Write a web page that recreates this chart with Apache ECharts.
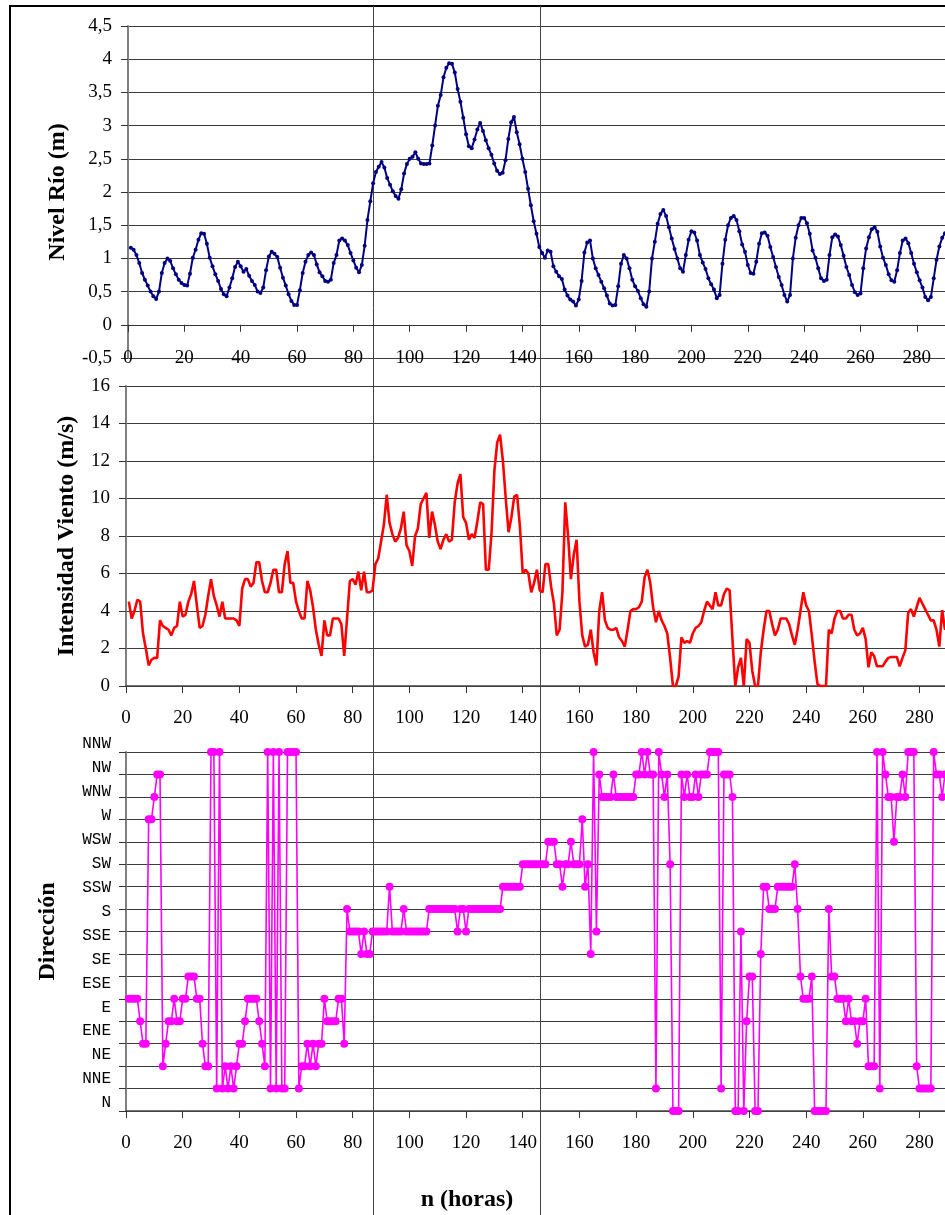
<!DOCTYPE html>
<html>
<head>
<meta charset="utf-8">
<script src="https://cdn.jsdelivr.net/npm/echarts@6/dist/echarts.min.js"></script>
<style>
  html, body { margin: 0; padding: 0; background: #fff; }
  #chart { width: 945px; height: 1215px; }
</style>
</head>
<body>
<div id="chart"></div>
<script>
// Hourly records, first sample at hour 1
const horaInicial = 1;

// River level (m)
const nivelRio = [
  1.16,1.13,1.05,0.93,0.78,0.68,0.59,0.50,0.43,0.39,
  0.50,0.78,0.93,1.00,0.96,0.85,0.76,0.68,0.63,0.60,
  0.59,0.77,1.01,1.13,1.28,1.38,1.37,1.22,1.01,0.88,
  0.76,0.66,0.54,0.46,0.43,0.56,0.70,0.87,0.95,0.88,
  0.80,0.84,0.74,0.66,0.60,0.50,0.48,0.56,0.82,1.03,
  1.10,1.07,1.02,0.86,0.71,0.59,0.46,0.36,0.30,0.30,
  0.52,0.78,0.95,1.05,1.09,1.05,0.91,0.79,0.73,0.66,
  0.65,0.68,0.93,1.05,1.27,1.30,1.27,1.20,1.08,0.97,
  0.86,0.79,0.90,1.19,1.58,1.86,2.13,2.30,2.38,2.45,
  2.37,2.21,2.11,2.01,1.94,1.90,2.04,2.28,2.42,2.50,
  2.53,2.60,2.50,2.43,2.42,2.42,2.43,2.70,3.00,3.30,
  3.46,3.73,3.87,3.94,3.93,3.80,3.55,3.36,3.12,2.87,
  2.69,2.66,2.79,2.94,3.04,2.92,2.78,2.66,2.56,2.43,
  2.32,2.27,2.29,2.48,2.80,3.05,3.13,2.90,2.72,2.50,
  2.30,2.05,1.80,1.56,1.37,1.17,1.08,1.01,1.12,1.10,
  0.88,0.80,0.73,0.69,0.53,0.44,0.38,0.35,0.29,0.38,
  0.66,1.09,1.24,1.27,1.00,0.85,0.75,0.65,0.55,0.44,
  0.32,0.29,0.30,0.58,0.92,1.05,1.00,0.85,0.68,0.58,
  0.51,0.40,0.31,0.27,0.50,1.00,1.25,1.52,1.67,1.73,
  1.64,1.47,1.30,1.14,1.00,0.85,0.80,1.05,1.28,1.41,
  1.39,1.27,1.05,0.94,0.84,0.70,0.61,0.53,0.40,0.45,
  0.92,1.28,1.50,1.61,1.64,1.58,1.41,1.21,1.10,0.90,
  0.78,0.77,0.95,1.22,1.38,1.39,1.34,1.17,1.02,0.87,
  0.72,0.60,0.45,0.35,0.45,1.00,1.31,1.50,1.61,1.61,
  1.53,1.37,1.12,1.01,0.85,0.70,0.66,0.68,1.05,1.32,
  1.36,1.33,1.20,1.04,0.87,0.75,0.60,0.49,0.45,0.47,
  0.85,1.15,1.32,1.44,1.47,1.40,1.18,1.01,0.90,0.76,
  0.67,0.65,0.82,1.08,1.27,1.30,1.23,1.08,0.92,0.79,
  0.67,0.56,0.42,0.37,0.42,0.70,0.98,1.18,1.31,1.38
];

// Wind speed (m/s)
const intensidadViento = [
  4.5,3.6,4.0,4.6,4.5,2.8,2.0,1.1,1.4,1.5,
  1.5,3.5,3.2,3.1,3.0,2.7,3.1,3.2,4.5,3.7,
  3.8,4.5,4.9,5.6,4.3,3.1,3.2,3.8,4.8,5.7,
  4.8,4.3,3.7,4.5,3.6,3.6,3.6,3.6,3.5,3.2,
  5.2,5.7,5.7,5.3,5.5,6.6,6.6,5.6,5.0,5.0,
  5.5,6.2,6.2,5.0,5.0,6.5,7.2,5.5,5.5,4.5,
  4.0,3.6,3.6,5.6,5.1,4.2,3.0,2.2,1.6,3.5,
  2.7,2.7,3.6,3.6,3.6,3.3,1.6,3.6,5.6,5.7,
  5.4,6.1,5.1,6.1,5.0,5.0,5.1,6.5,6.8,7.7,
  8.6,10.2,8.7,8.1,7.7,7.9,8.4,9.3,7.5,7.2,
  6.4,8.0,8.4,9.7,10.0,10.3,7.9,9.3,8.6,7.7,
  7.3,7.8,8.1,7.7,7.8,9.8,10.8,11.3,9.0,8.7,
  7.8,8.1,7.9,8.8,9.8,9.7,6.2,6.2,8.2,11.5,
  13.0,13.4,12.0,10.0,8.2,9.0,10.1,10.2,8.5,6.0,
  6.2,6.0,5.0,5.5,6.2,5.1,5.0,6.5,6.5,5.3,
  4.4,2.7,3.0,5.0,9.8,8.0,5.7,7.0,7.8,4.5,
  2.7,2.1,2.2,3.0,1.8,1.1,4.0,5.0,3.5,3.1,
  3.0,3.0,3.1,2.6,2.4,2.1,3.0,4.0,4.1,4.1,
  4.2,4.5,5.8,6.2,5.5,4.2,3.4,4.0,3.5,3.2,
  2.8,1.5,0.0,0.0,0.5,2.6,2.3,2.4,2.3,2.8,
  3.1,3.2,3.4,4.0,4.5,4.3,4.1,5.0,4.3,4.3,
  4.9,5.2,5.1,2.5,0.0,1.0,1.5,0.0,2.5,2.3,
  0.8,0.0,0.0,1.8,3.0,4.0,4.0,3.3,2.7,3.0,
  3.6,3.6,3.6,3.3,2.7,2.2,3.0,4.0,5.0,4.3,
  4.0,2.7,1.3,0.1,0.0,0.0,0.0,3.0,2.8,3.6,
  4.0,4.0,3.6,3.6,3.8,3.8,3.0,2.7,2.8,3.1,
  2.5,1.0,1.8,1.6,1.05,1.05,1.05,1.3,1.5,1.55,
  1.55,1.55,1.05,1.5,1.9,3.9,4.1,3.7,4.2,4.7,
  4.4,4.1,3.8,3.5,3.5,3.0,2.1,4.05,3.0,3.5
];

// Wind direction, as a step on the 0..16 scale
const direccion = [
  5,5,5,5,4,3,3,13,13,14,
  15,15,2,3,4,4,5,4,4,5,
  5,6,6,6,5,5,3,2,2,16,
  16,1,16,1,2,1,2,1,2,3,
  3,4,5,5,5,5,4,3,2,16,
  1,16,1,16,1,1,16,16,16,16,
  1,2,2,3,2,3,2,3,3,5,
  4,4,4,4,5,5,3,9,8,8,
  8,8,7,8,7,7,8,8,8,8,
  8,8,10,8,8,8,8,9,8,8,
  8,8,8,8,8,8,9,9,9,9,
  9,9,9,9,9,9,8,9,9,8,
  9,9,9,9,9,9,9,9,9,9,
  9,9,10,10,10,10,10,10,10,11,
  11,11,11,11,11,11,11,11,12,12,
  12,11,11,10,11,11,12,11,11,11,
  13,10,11,7,16,8,15,14,14,14,
  14,15,14,14,14,14,14,14,14,15,
  15,16,15,16,15,15,1,16,15,14,
  15,11,0,0,0,15,14,15,14,14,
  15,14,15,15,15,16,16,16,16,1,
  15,15,15,14,0,0,8,0,4,6,
  6,0,0,7,10,10,9,9,9,10,
  10,10,10,10,10,11,9,6,5,5,
  5,6,0,0,0,0,0,9,6,6,
  5,5,5,4,5,4,4,3,4,4,
  5,2,2,2,16,1,16,15,14,14,
  12,14,14,15,14,16,16,16,2,1,
  1,1,1,1,16,15,15,14,15,15
];

// Compass point labels for the direction panel
const rumbos = ['N','NNE','NE','ENE','E','ESE','SE','SSE','S','SSW','SW','WSW','W','WNW','NW','NNW'];

// Hours marked with vertical reference lines across all panels
const horasEvento = [87, 146];

const pares = arr => arr.map((v, i) => [horaInicial + i, v]);

const serif = '"Liberation Serif", "Times New Roman", serif';
const mono = '"Liberation Mono", "Courier New", monospace';
const gridLine = { show: true, lineStyle: { color: '#3c3c3c', width: 1 } };
const tickLbl = { color: '#000', fontFamily: serif, fontSize: 19 };
const titleStyle = { color: '#000', fontFamily: serif, fontSize: 24, fontWeight: 'bold' };
const xLabelFmt = v => (v % 20 === 0 ? String(v) : '');

const chart = echarts.init(document.getElementById('chart'), null, { renderer: 'canvas' });

chart.setOption({
  animation: false,
  backgroundColor: '#fff',
  grid: [
    { left: 128, top: 26, right: 0, height: 332, outerBoundsMode: 'none', containLabel: false },
    { left: 126, top: 386, right: 0, height: 300, outerBoundsMode: 'none', containLabel: false },
    { left: 126, top: 752, right: 0, height: 359, outerBoundsMode: 'none', containLabel: false }
  ],
  xAxis: [
    // river level: axis line through zero
    { type: 'value', gridIndex: 0, min: 0, max: 290, interval: 20, position: 'bottom',
      axisLine: { show: true, onZero: true, lineStyle: { color: '#333', width: 1 } },
      axisTick: { show: true, length: 7, lineStyle: { color: '#333' } },
      axisLabel: { show: false }, splitLine: { show: false } },
    // river level: hour labels along the lower edge
    { type: 'value', gridIndex: 0, min: 0, max: 290, interval: 20, position: 'bottom',
      axisLine: { show: false, onZero: false }, axisTick: { show: false },
      axisLabel: Object.assign({ margin: 0, verticalAlign: 'middle', formatter: xLabelFmt }, tickLbl),
      splitLine: { show: false } },
    // wind speed
    { type: 'value', gridIndex: 1, min: 0, max: 289, interval: 20, position: 'bottom',
      axisLine: { show: true, onZero: false, lineStyle: { color: '#444', width: 1.5 } },
      axisTick: { show: true, length: 7, lineStyle: { color: '#333' } },
      axisLabel: Object.assign({ margin: 32, verticalAlign: 'middle', formatter: xLabelFmt }, tickLbl),
      splitLine: { show: false } },
    // wind direction
    { type: 'value', gridIndex: 2, min: 0, max: 289, interval: 20, position: 'bottom',
      axisLine: { show: true, onZero: false, lineStyle: { color: '#444', width: 1.5 } },
      axisTick: { show: true, length: 7, lineStyle: { color: '#333' } },
      axisLabel: Object.assign({ margin: 32, verticalAlign: 'middle', formatter: xLabelFmt }, tickLbl),
      splitLine: { show: false } }
  ],
  yAxis: [
    { type: 'value', gridIndex: 0, min: -0.5, max: 4.5, interval: 0.5, position: 'left',
      name: 'Nivel Río (m)', nameLocation: 'middle', nameGap: 58, nameTextStyle: titleStyle,
      axisLine: { show: true, lineStyle: { color: '#808080', width: 2 } },
      axisTick: { show: true, length: 7, lineStyle: { color: '#333' } },
      axisLabel: Object.assign({ margin: 16, formatter: v => String(v).replace('.', ',') }, tickLbl),
      splitLine: gridLine },
    { type: 'value', gridIndex: 1, min: 0, max: 16, interval: 2, position: 'left',
      name: 'Intensidad Viento (m/s)', nameLocation: 'middle', nameGap: 47, nameTextStyle: titleStyle,
      axisLine: { show: true, lineStyle: { color: '#808080', width: 2 } },
      axisTick: { show: true, length: 7, lineStyle: { color: '#333' } },
      axisLabel: Object.assign({ margin: 16 }, tickLbl),
      splitLine: gridLine },
    { type: 'value', gridIndex: 2, min: 0, max: 16, interval: 1, position: 'left',
      name: 'Dirección', nameLocation: 'middle', nameGap: 66, nameTextStyle: titleStyle,
      axisLine: { show: true, lineStyle: { color: '#808080', width: 2 } },
      axisTick: { show: true, length: 7, lineStyle: { color: '#333' } },
      axisLabel: { show: false },
      splitLine: gridLine },
    { type: 'category', gridIndex: 2, position: 'left', data: rumbos, boundaryGap: false,
      axisLine: { show: false }, axisTick: { show: false }, splitLine: { show: false },
      axisLabel: { interval: 0, margin: 15, verticalAlign: 'bottom', color: '#000',
                   fontFamily: mono, fontSize: 16 } }
  ],
  series: [
    { name: 'Nivel Río', type: 'line', xAxisIndex: 0, yAxisIndex: 0, data: pares(nivelRio),
      symbol: 'circle', symbolSize: 4, showAllSymbol: true,
      lineStyle: { color: '#000080', width: 2 }, itemStyle: { color: '#000080' } },
    { name: 'Intensidad Viento', type: 'line', xAxisIndex: 2, yAxisIndex: 1, data: pares(intensidadViento),
      showSymbol: false, lineStyle: { color: '#ff0000', width: 2.6 }, itemStyle: { color: '#ff0000' } },
    { name: 'Dirección', type: 'line', xAxisIndex: 3, yAxisIndex: 2, data: pares(direccion),
      symbol: 'circle', symbolSize: 8, showAllSymbol: true,
      lineStyle: { color: '#ff00ff', width: 1.6 }, itemStyle: { color: '#ff00ff' } }
  ]
});

// Frame, event hour lines and the shared hour title
const lineas = horasEvento.map(h => {
  const x = Math.round(chart.convertToPixel({ xAxisIndex: 2 }, h)) + 0.5;
  return { type: 'line', silent: true, z: 0,
           shape: { x1: x, y1: 6, x2: x, y2: 1215 },
           style: { stroke: '#444', lineWidth: 1 } };
});

chart.setOption({
  graphic: [
    { type: 'rect', silent: true, shape: { x: 10, y: 6, width: 1000, height: 1300 },
      style: { fill: 'none', stroke: '#000', lineWidth: 2 } },
    ...lineas,
    { type: 'text', silent: true, x: 467, y: 1200,
      style: { text: 'n (horas)', fill: '#000', fontFamily: serif, fontSize: 24, fontWeight: 'bold',
               align: 'center', verticalAlign: 'middle' } }
  ]
});
</script>
</body>
</html>
